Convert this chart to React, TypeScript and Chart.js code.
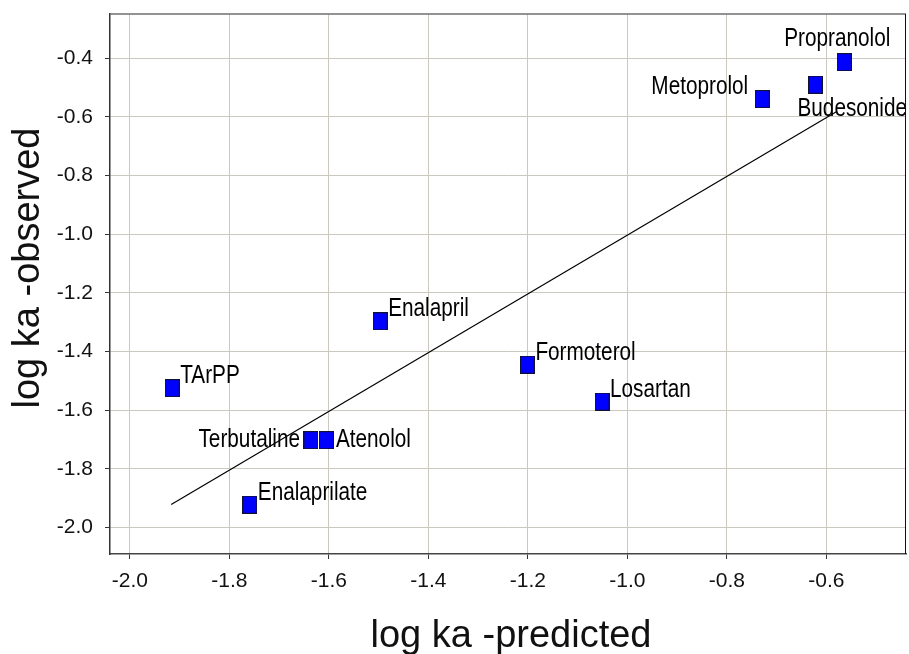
import { useEffect, useRef } from 'react';
import { Chart, registerables } from 'chart.js';

Chart.register(...registerables);

// Absorption rate constants (log ka): model prediction vs. observation
const drugNames = [
  'Propranolol',
  'Budesonide',
  'Metoprolol',
  'Enalapril',
  'TArPP',
  'Formoterol',
  'Losartan',
  'Terbutaline',
  'Atenolol',
  'Enalaprilate',
];
const predictedLogKa = [-0.564, -0.622, -0.729, -1.497, -1.915, -1.201, -1.051, -1.636, -1.605, -1.759];
const observedLogKa = [-0.414, -0.491, -0.54, -1.297, -1.525, -1.445, -1.571, -1.702, -1.702, -1.922];

// Fitted line end points
const fitLineX = [-1.917, -0.58];
const fitLineY = [-1.921, -0.583];

const xTickValues = [-2.0, -1.8, -1.6, -1.4, -1.2, -1.0, -0.8, -0.6];
const yTickValues = [-2.0, -1.8, -1.6, -1.4, -1.2, -1.0, -0.8, -0.6, -0.4];

const xAxisTitle = 'log ka -predicted';
const yAxisTitle = 'log ka -observed';

const FONT = "'Liberation Sans', Arial, Helvetica, sans-serif";

// How each point label sits relative to its marker: [align, dx, baseline dy]
const defaultPlacement: [CanvasTextAlign, number, number] = ['left', 8, -5];
const labelPlacement: Record<string, [CanvasTextAlign, number, number]> = {
  Propranolol: ['center', -7, -16],
  Budesonide: ['left', -18, 31],
  Metoprolol: ['right', -14, -5.5],
  Terbutaline: ['right', -11, 6.5],
  Atenolol: ['left', 9.5, 6.5],
};

function makeMarker(): HTMLCanvasElement {
  const w = 15;
  const h = 18;
  const c = document.createElement('canvas');
  c.width = w;
  c.height = h;
  const g = c.getContext('2d')!;
  g.fillStyle = '#0000ff';
  g.fillRect(0, 0, w, h);
  g.strokeStyle = '#111133';
  g.lineWidth = 1;
  g.strokeRect(0.5, 0.5, w - 1, h - 1);
  return c;
}

const decorPlugin = {
  id: 'decor',
  beforeDraw(chart: any) {
    const { ctx, width, height } = chart;
    ctx.save();
    ctx.fillStyle = '#ffffff';
    ctx.fillRect(0, 0, width, height);
    ctx.restore();
  },
  afterDatasetsDraw(chart: any) {
    const { ctx } = chart;
    const meta = chart.getDatasetMeta(0);
    ctx.save();
    ctx.fillStyle = '#000000';
    ctx.font = `25px ${FONT}`;
    ctx.textBaseline = 'alphabetic';
    meta.data.forEach((pt: any, i: number) => {
      const name = drugNames[i];
      const [align, dx, dy] = labelPlacement[name] || defaultPlacement;
      ctx.save();
      ctx.translate(pt.x + dx, pt.y + dy);
      ctx.scale(0.83, 1);
      ctx.textAlign = align;
      ctx.fillText(name, 0, 0);
      ctx.restore();
    });
    ctx.restore();
  },
  afterDraw(chart: any) {
    const { ctx, chartArea } = chart;
    const { left, right, top, bottom } = chartArea;
    ctx.save();
    // top frame line
    ctx.strokeStyle = '#6e6e6e';
    ctx.lineWidth = 1.5;
    ctx.beginPath();
    ctx.moveTo(left, top);
    ctx.lineTo(right, top);
    ctx.stroke();
    // right frame line
    ctx.strokeStyle = '#111111';
    ctx.lineWidth = 1;
    ctx.beginPath();
    ctx.moveTo(right - 0.5, top);
    ctx.lineTo(right - 0.5, bottom);
    ctx.stroke();

    // axis titles
    ctx.fillStyle = '#111111';
    ctx.font = `38px ${FONT}`;
    ctx.textAlign = 'center';
    ctx.textBaseline = 'alphabetic';
    ctx.fillText(xAxisTitle, 511, 647);
    ctx.translate(39, 268);
    ctx.rotate(-Math.PI / 2);
    ctx.fillText(yAxisTitle, 0, 0);
    ctx.restore();
  },
};

export default function App() {
  const canvasRef = useRef<HTMLCanvasElement | null>(null);

  useEffect(() => {
    const canvas = canvasRef.current;
    if (!canvas) return;
    const marker = makeMarker();
    const tickFont = { family: FONT, size: 21 };

    const chart = new Chart(canvas, {
      type: 'scatter',
      data: {
        datasets: [
          {
            label: 'drugs',
            data: drugNames.map((_, i) => ({ x: predictedLogKa[i], y: observedLogKa[i] })),
            pointStyle: marker as any,
            pointRadius: 8,
            pointHoverRadius: 8,
            showLine: false,
            order: 0,
          },
          {
            label: 'fit',
            data: fitLineX.map((x, i) => ({ x, y: fitLineY[i] })),
            showLine: true,
            borderColor: '#000000',
            borderWidth: 1.2,
            pointRadius: 0,
            pointHoverRadius: 0,
            fill: false,
            order: 1,
          },
        ],
      },
      options: {
        responsive: false,
        animation: false,
        devicePixelRatio: 1,
        layout: { autoPadding: false, padding: { top: 14, right: 3, left: 0, bottom: 0 } },
        plugins: {
          legend: { display: false },
          tooltip: { enabled: false },
          title: { display: false },
        },
        scales: {
          x: {
            type: 'linear',
            min: -2.04,
            max: -0.44,
            afterBuildTicks: (s: any) => {
              s.ticks = xTickValues.map((v) => ({ value: v }));
            },
            afterFit: (s: any) => {
              s.height = 100;
              s.paddingLeft = 0;
              s.paddingRight = 0;
              s.paddingTop = 0;
              s.paddingBottom = 0;
            },
            grid: { color: '#cbc8c0', lineWidth: 1, tickColor: '#333333', tickLength: 5 },
            border: { color: '#444444', width: 1.5 },
            ticks: {
              callback: (v: any) => Number(v).toFixed(1),
              font: tickFont,
              color: '#111111',
              padding: 10,
              maxRotation: 0,
              autoSkip: false,
            },
          },
          y: {
            type: 'linear',
            min: -2.09,
            max: -0.25,
            afterBuildTicks: (s: any) => {
              s.ticks = yTickValues.map((v) => ({ value: v }));
            },
            afterFit: (s: any) => {
              s.width = 110;
              s.paddingLeft = 0;
              s.paddingRight = 0;
              s.paddingTop = 0;
              s.paddingBottom = 0;
            },
            grid: { color: '#cbc8c0', lineWidth: 1, tickColor: '#333333', tickLength: 5 },
            border: { color: '#333333', width: 1.5 },
            ticks: {
              callback: (v: any) => Number(v).toFixed(1),
              font: tickFont,
              color: '#111111',
              padding: 12,
              autoSkip: false,
            },
          },
        },
      },
      plugins: [decorPlugin],
    });

    return () => chart.destroy();
  }, []);

  return (
    <div style={{ position: 'fixed', left: 0, top: 0, width: 909, height: 654, background: '#fff' }}>
      <canvas ref={canvasRef} width={909} height={654} style={{ display: 'block' }} />
    </div>
  );
}
